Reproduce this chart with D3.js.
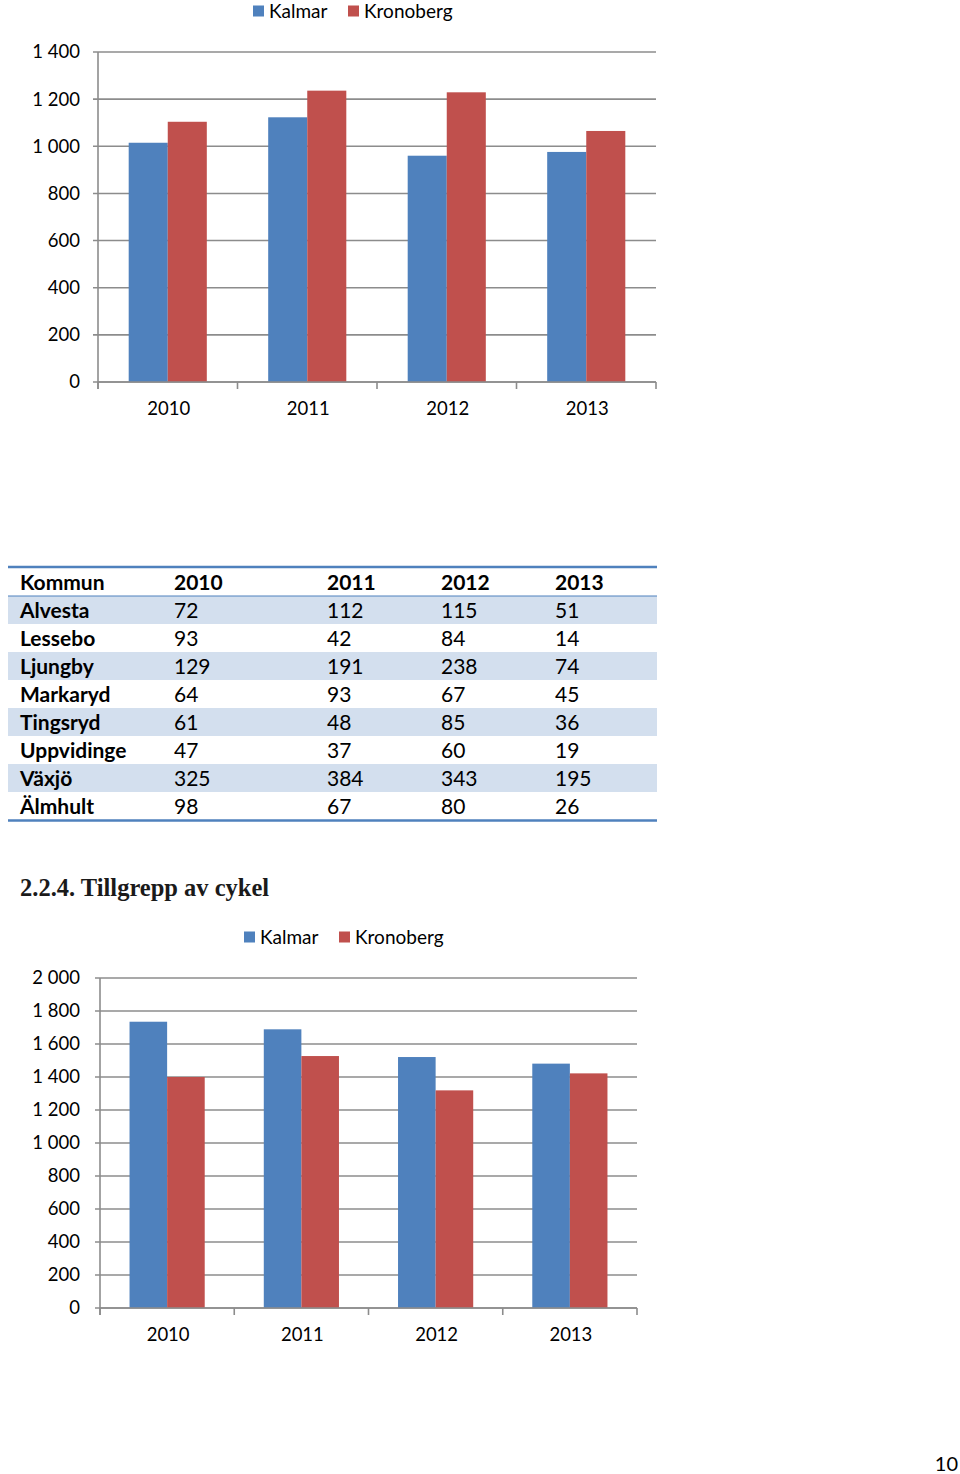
<!DOCTYPE html>
<html><head><meta charset="utf-8">
<script src="https://cdn.jsdelivr.net/npm/d3@7"></script>
<style>body{margin:0;background:#fff}svg{display:block}</style>
</head><body>
<script>
const years = ["2010","2011","2012","2013"];
const seriesNames = ["Kalmar","Kronoberg"];
const kalmarTop = [1015,1123,960,976];
const kronobergTop = [1104,1236,1229,1065];
const topTicks = [0,200,400,600,800,1000,1200,1400];
const kalmarBike = [1735,1689,1521,1481];
const kronobergBike = [1400,1527,1319,1422];
const bikeTicks = [0,200,400,600,800,1000,1200,1400,1600,1800,2000];
const kommuner = ["Alvesta","Lessebo","Ljungby","Markaryd","Tingsryd","Uppvidinge","Växjö","Älmhult"];
const v2010 = [72,93,129,64,61,47,325,98];
const v2011 = [112,42,191,93,48,37,384,67];
const v2012 = [115,84,238,67,85,60,343,80];
const v2013 = [51,14,74,45,36,19,195,26];
const heading = "2.2.4. Tillgrepp av cykel";
const pageNumber = "10";

const colors = {Kalmar:"#4f81bd", Kronoberg:"#c0504d"};
const FONT = "Lato, 'Open Sans', sans-serif";
const fmt = v => d3.format(",")(v).replace(/,/g, " ");

const svg = d3.select("body").append("svg").attr("width",960).attr("height",1474);

function barChart(o){
  const g = svg.append("g");
  const x0 = d3.scaleBand().domain(years).range([o.x0,o.x1]).paddingInner(0.44).paddingOuter(0.22);
  const x1 = d3.scaleBand().domain(seriesNames).range([0,x0.bandwidth()]);
  const y = d3.scaleLinear().domain([0,o.max]).range([o.y0,o.y1]);
  g.append("g").selectAll("line").data(o.ticks).join("line")
    .attr("x1",o.x0-5).attr("x2",o.x1).attr("y1",d=>y(d)).attr("y2",d=>y(d))
    .attr("stroke","#8c8c8c").attr("stroke-width",1.6);
  g.append("g").selectAll("text").data(o.ticks).join("text")
    .attr("x",80).attr("y",d=>y(d)).attr("dy","0.35em").attr("text-anchor","end")
    .attr("font-family",FONT).attr("font-size",18.5).attr("fill","#000").text(fmt);
  const data = years.map((yr,i)=>({yr, vals:[{s:"Kalmar",v:o.k[i]},{s:"Kronoberg",v:o.r[i]}]}));
  g.append("g").selectAll("g").data(data).join("g")
    .attr("transform",d=>`translate(${x0(d.yr)},0)`)
    .selectAll("rect").data(d=>d.vals).join("rect")
    .attr("x",d=>x1(d.s)).attr("width",x1.bandwidth())
    .attr("y",d=>y(d.v)).attr("height",d=>y(0)-y(d.v)).attr("fill",d=>colors[d.s]);
  g.append("line").attr("x1",o.x0).attr("x2",o.x0).attr("y1",y(o.max)).attr("y2",y(0)+7)
    .attr("stroke","#8c8c8c").attr("stroke-width",1.6);
  g.append("line").attr("x1",o.x0).attr("x2",o.x1).attr("y1",y(0)).attr("y2",y(0))
    .attr("stroke","#8c8c8c").attr("stroke-width",1.6);
  const step = x0.step();
  g.append("g").selectAll("line").data(d3.range(5)).join("line")
    .attr("x1",i=>o.x0+i*step).attr("x2",i=>o.x0+i*step).attr("y1",y(0)).attr("y2",y(0)+7)
    .attr("stroke","#8c8c8c").attr("stroke-width",1.6);
  g.append("g").selectAll("text").data(years).join("text")
    .attr("x",d=>x0(d)+x0.bandwidth()/2+1).attr("y",y(0)+27).attr("dy","0.35em").attr("text-anchor","middle")
    .attr("font-family",FONT).attr("font-size",18.5).attr("fill","#000").text(d=>d);
  const lg = g.append("g").attr("transform",`translate(${o.lx},${o.ly})`);
  const offs = [0,95];
  seriesNames.forEach((s,i)=>{
    lg.append("rect").attr("x",offs[i]).attr("y",-5.5).attr("width",11).attr("height",11).attr("fill",colors[s]);
    lg.append("text").attr("x",offs[i]+16).attr("y",0).attr("dy","0.35em")
      .attr("font-family",FONT).attr("font-size",19).attr("fill","#000").text(s);
  });
}

barChart({x0:98,x1:656,y0:382,y1:52,max:1400,ticks:topTicks,k:kalmarTop,r:kronobergTop,lx:253,ly:11});
barChart({x0:100,x1:637,y0:1308,y1:978,max:2000,ticks:bikeTicks,k:kalmarBike,r:kronobergBike,lx:244,ly:937});

const tbl = svg.append("g");
const colX = [20,174,327,441,555];
const rowH = 28, tTop = 568, tLeft = 8, tRight = 657;
const rows = kommuner.map((k,i)=>[k,v2010[i],v2011[i],v2012[i],v2013[i]]);
tbl.selectAll("rect.shade").data(rows).join("rect").attr("class","shade")
  .attr("x",tLeft).attr("width",tRight-tLeft).attr("y",(d,i)=>tTop+rowH*(i+1)).attr("height",rowH)
  .attr("fill",(d,i)=>i%2===0?"#d3dfee":"none");
tbl.append("line").attr("x1",tLeft).attr("x2",tRight).attr("y1",tTop-1).attr("y2",tTop-1).attr("stroke","#4f81bd").attr("stroke-width",2.5);
tbl.append("line").attr("x1",tLeft).attr("x2",tRight).attr("y1",tTop+rowH).attr("y2",tTop+rowH).attr("stroke","#4f81bd").attr("stroke-width",1);
tbl.append("line").attr("x1",tLeft).attr("x2",tRight).attr("y1",tTop+rowH*9+0.5).attr("y2",tTop+rowH*9+0.5).attr("stroke","#4f81bd").attr("stroke-width",2.5);
const header = ["Kommun"].concat(years);
tbl.append("g").selectAll("text").data(header).join("text")
  .attr("x",(d,i)=>colX[i]).attr("y",tTop+rowH/2+1).attr("dy","0.35em")
  .attr("font-family",FONT).attr("font-weight","bold").attr("font-size",21).text(d=>d);
rows.forEach((r,ri)=>{
  tbl.append("g").selectAll("text").data(r).join("text")
    .attr("x",(d,i)=>colX[i]).attr("y",tTop+rowH*(ri+1)+rowH/2+1).attr("dy","0.35em")
    .attr("font-family",FONT).attr("font-weight",(d,i)=>i===0?"bold":"normal").attr("font-size",21).text(d=>d);
});

svg.append("text").attr("x",20).attr("y",896).attr("font-family","'Liberation Serif', serif")
  .attr("font-weight","bold").attr("font-size",24.5).attr("fill","#1a1a1a").text(heading);
svg.append("text").attr("x",958).attr("y",1471).attr("text-anchor","end").attr("font-family",FONT)
  .attr("font-size",20).text(pageNumber);
</script>
</body></html>
